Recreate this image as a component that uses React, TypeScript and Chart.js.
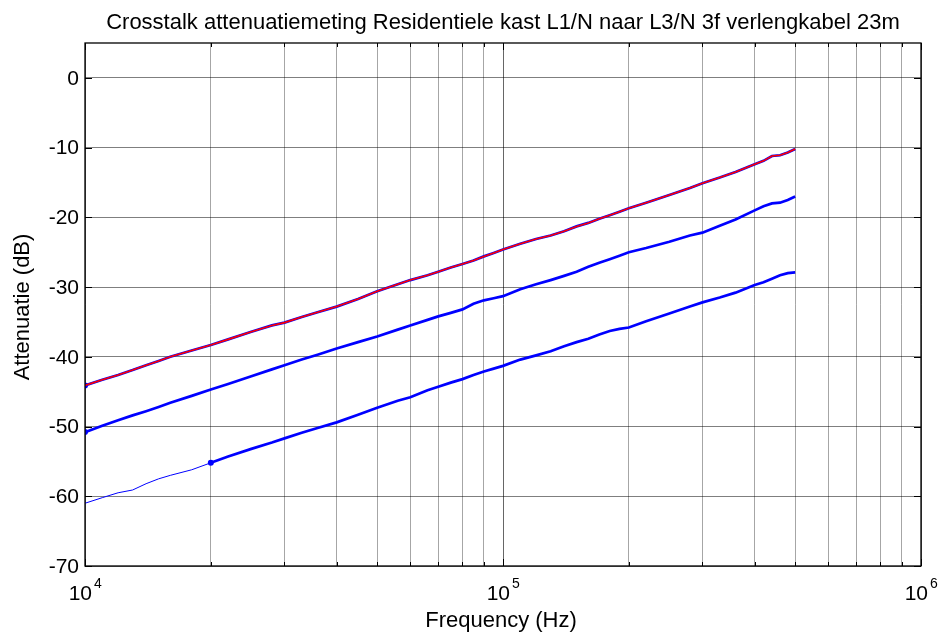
import React, { useEffect, useRef } from "react";
import { Chart, registerables } from "chart.js";

Chart.register(...registerables);

// Frequencies in kHz
const freqKHz = [10, 11, 12, 13, 14, 15, 16, 18, 20, 22, 25, 28, 30, 33, 36, 40, 45, 50, 56, 60, 66, 70, 75, 80, 85, 90, 95, 100, 110, 120, 130, 140, 150, 160, 170, 180, 190, 200, 220, 250, 280, 300, 330, 360, 400, 420, 440, 460, 480, 500];

const line1 = [-44.1, -43.3, -42.6, -41.9, -41.2, -40.6, -40.0, -39.1, -38.3, -37.5, -36.4, -35.5, -35.1, -34.3, -33.6, -32.8, -31.7, -30.6, -29.6, -29.0, -28.3, -27.8, -27.2, -26.7, -26.2, -25.6, -25.1, -24.6, -23.8, -23.1, -22.6, -22.0, -21.3, -20.8, -20.2, -19.7, -19.2, -18.7, -17.9, -16.8, -15.8, -15.1, -14.3, -13.5, -12.4, -11.9, -11.2, -11.1, -10.7, -10.2];

const line2 = [-50.8, -49.9, -49.1, -48.4, -47.8, -47.2, -46.6, -45.6, -44.7, -43.9, -42.8, -41.8, -41.2, -40.4, -39.7, -38.8, -37.9, -37.1, -36.1, -35.5, -34.7, -34.2, -33.7, -33.2, -32.4, -31.9, -31.6, -31.3, -30.3, -29.6, -29.0, -28.4, -27.8, -27.1, -26.5, -26.0, -25.5, -25.0, -24.4, -23.5, -22.6, -22.2, -21.2, -20.3, -19.0, -18.4, -18.0, -17.9, -17.5, -17.0];

const line3 = [-61.0, -60.2, -59.5, -59.1, -58.2, -57.5, -57.0, -56.2, -55.2, -54.3, -53.2, -52.3, -51.7, -50.9, -50.2, -49.4, -48.3, -47.3, -46.3, -45.8, -44.8, -44.3, -43.7, -43.2, -42.6, -42.1, -41.7, -41.3, -40.4, -39.8, -39.2, -38.5, -37.9, -37.4, -36.8, -36.3, -36.0, -35.8, -34.9, -33.8, -32.8, -32.2, -31.5, -30.8, -29.7, -29.3, -28.8, -28.3, -28.0, -27.9];

// index where line 3 turns from a thin trace into a thick one (20 kHz)
const line3Split = 8;

const yTicks = [-70, -60, -50, -40, -30, -20, -10, 0];
const decadeExps = [4, 5, 6];

const titleText = "Crosstalk attenuatiemeting Residentiele kast L1/N naar L3/N 3f verlengkabel 23m";
const xTitle = "Frequency (Hz)";
const yTitle = "Attenuatie (dB)";

const FONT = "'Liberation Sans', Arial, Helvetica, sans-serif";

function pts(vals: number[], from = 0, to = vals.length) {
  const out: { x: number; y: number }[] = [];
  for (let i = from; i < to; i++) out.push({ x: freqKHz[i] * 1000, y: vals[i] });
  return out;
}

function xTickValues() {
  const v: number[] = [];
  for (let d = 4; d <= 5; d++) {
    for (let m = 1; m <= 9; m++) v.push(m * Math.pow(10, d));
  }
  v.push(1e6);
  return v;
}

const isDecade = (v: number) => Math.abs(Math.log10(v) - Math.round(Math.log10(v))) < 1e-9;

const decorPlugin = {
  id: "decor",
  afterDraw(chart: any) {
    const { ctx, chartArea } = chart;
    const xs = chart.scales.x;
    const ys = chart.scales.y;
    const { left, right, top, bottom } = chartArea;
    ctx.save();
    // box
    ctx.strokeStyle = "#000";
    ctx.lineWidth = 1.3;
    ctx.strokeRect(left, top, right - left, bottom - top);
    // inward ticks
    ctx.lineWidth = 1;
    xTickValues().forEach((v) => {
      const x = Math.round(xs.getPixelForValue(v)) + 0.5;
      const len = isDecade(v) ? 7 : 4;
      ctx.beginPath();
      ctx.moveTo(x, bottom);
      ctx.lineTo(x, bottom - len);
      ctx.moveTo(x, top);
      ctx.lineTo(x, top + len);
      ctx.stroke();
    });
    yTicks.forEach((v) => {
      const y = Math.round(ys.getPixelForValue(v)) + 0.5;
      ctx.beginPath();
      ctx.moveTo(left, y);
      ctx.lineTo(left + 7, y);
      ctx.moveTo(right, y);
      ctx.lineTo(right - 7, y);
      ctx.stroke();
    });
    ctx.fillStyle = "#000";
    // y tick labels
    ctx.font = `21px ${FONT}`;
    ctx.textAlign = "right";
    ctx.textBaseline = "middle";
    yTicks.forEach((v) => {
      ctx.fillText(String(v), 79, ys.getPixelForValue(v) + 1);
    });
    // title
    ctx.textAlign = "center";
    ctx.textBaseline = "alphabetic";
    ctx.font = `22px ${FONT}`;
    ctx.fillText(titleText, 503, 29);
    // x title
    ctx.fillText(xTitle, 501, 627);
    // y title
    ctx.save();
    ctx.translate(23, 307);
    ctx.rotate(-Math.PI / 2);
    ctx.textBaseline = "middle";
    ctx.fillText(yTitle, 0, 0);
    ctx.restore();
    // decade tick labels 10^n
    decadeExps.forEach((e) => {
      const x = xs.getPixelForValue(Math.pow(10, e));
      ctx.font = `21px ${FONT}`;
      ctx.textAlign = "right";
      ctx.fillText("10", x + 7, 600);
      ctx.font = `14px ${FONT}`;
      ctx.textAlign = "left";
      ctx.fillText(String(e), x + 9, 588);
    });
    ctx.restore();
  },
};

export default function App() {
  const ref = useRef<HTMLCanvasElement | null>(null);
  useEffect(() => {
    if (!ref.current) return;
    const firstDot = (c: any) => (c.dataIndex === 0 ? 3 : 0);
    const chart = new Chart(ref.current, {
      type: "line",
      data: {
        datasets: [
          {
            data: pts(line1),
            borderColor: "#ff0000",
            borderWidth: 1.6,
            pointRadius: 0,
            tension: 0,
          },
          {
            data: pts(line1),
            borderColor: "#0000ff",
            borderWidth: 2.7,
            pointRadius: firstDot,
            pointBackgroundColor: "#0000ff",
            pointBorderWidth: 0,
            tension: 0,
          },
          {
            data: pts(line2),
            borderColor: "#0000ff",
            borderWidth: 2.7,
            pointRadius: firstDot,
            pointBackgroundColor: "#0000ff",
            pointBorderWidth: 0,
            tension: 0,
          },
          {
            data: pts(line3, line3Split),
            borderColor: "#0000ff",
            borderWidth: 2.7,
            pointRadius: firstDot,
            pointBackgroundColor: "#0000ff",
            pointBorderWidth: 0,
            tension: 0,
          },
          {
            data: pts(line3, 0, line3Split + 1),
            borderColor: "#0000ff",
            borderWidth: 1,
            pointRadius: 0,
            tension: 0,
          },
        ],
      },
      options: {
        responsive: false,
        animation: false,
        events: [],
        layout: { padding: { left: 0, top: 43, right: 22, bottom: 0 } },
        plugins: { legend: { display: false }, tooltip: { enabled: false }, title: { display: false } },
        scales: {
          x: {
            type: "logarithmic",
            min: 1e4,
            max: 1e6,
            afterBuildTicks: (s: any) => {
              s.ticks = xTickValues().map((v) => ({ value: v, major: isDecade(v) }));
            },
            afterFit: (s: any) => {
              s.height = 75;
            },
            ticks: { display: false },
            border: { display: false },
            grid: {
              drawTicks: false,
              color: (c: any) => (c.tick && isDecade(c.tick.value) ? "rgba(0,0,0,0.6)" : "rgba(0,0,0,0.35)"),
              lineWidth: 1,
            },
          },
          y: {
            type: "linear",
            min: -70,
            max: 5,
            afterBuildTicks: (s: any) => {
              s.ticks = yTicks.map((v) => ({ value: v }));
            },
            afterFit: (s: any) => {
              s.width = 85;
            },
            ticks: { display: false },
            border: { display: false },
            grid: {
              drawTicks: false,
              color: "rgba(0,0,0,0.5)",
              lineWidth: 1,
            },
          },
        },
      },
      plugins: [decorPlugin],
    } as any);
    return () => chart.destroy();
  }, []);
  return (
    <div style={{ position: "fixed", left: 0, top: 0, width: 943, height: 641, background: "#fff" }}>
      <canvas ref={ref} width={943} height={641} style={{ width: 943, height: 641 }} />
    </div>
  );
}
